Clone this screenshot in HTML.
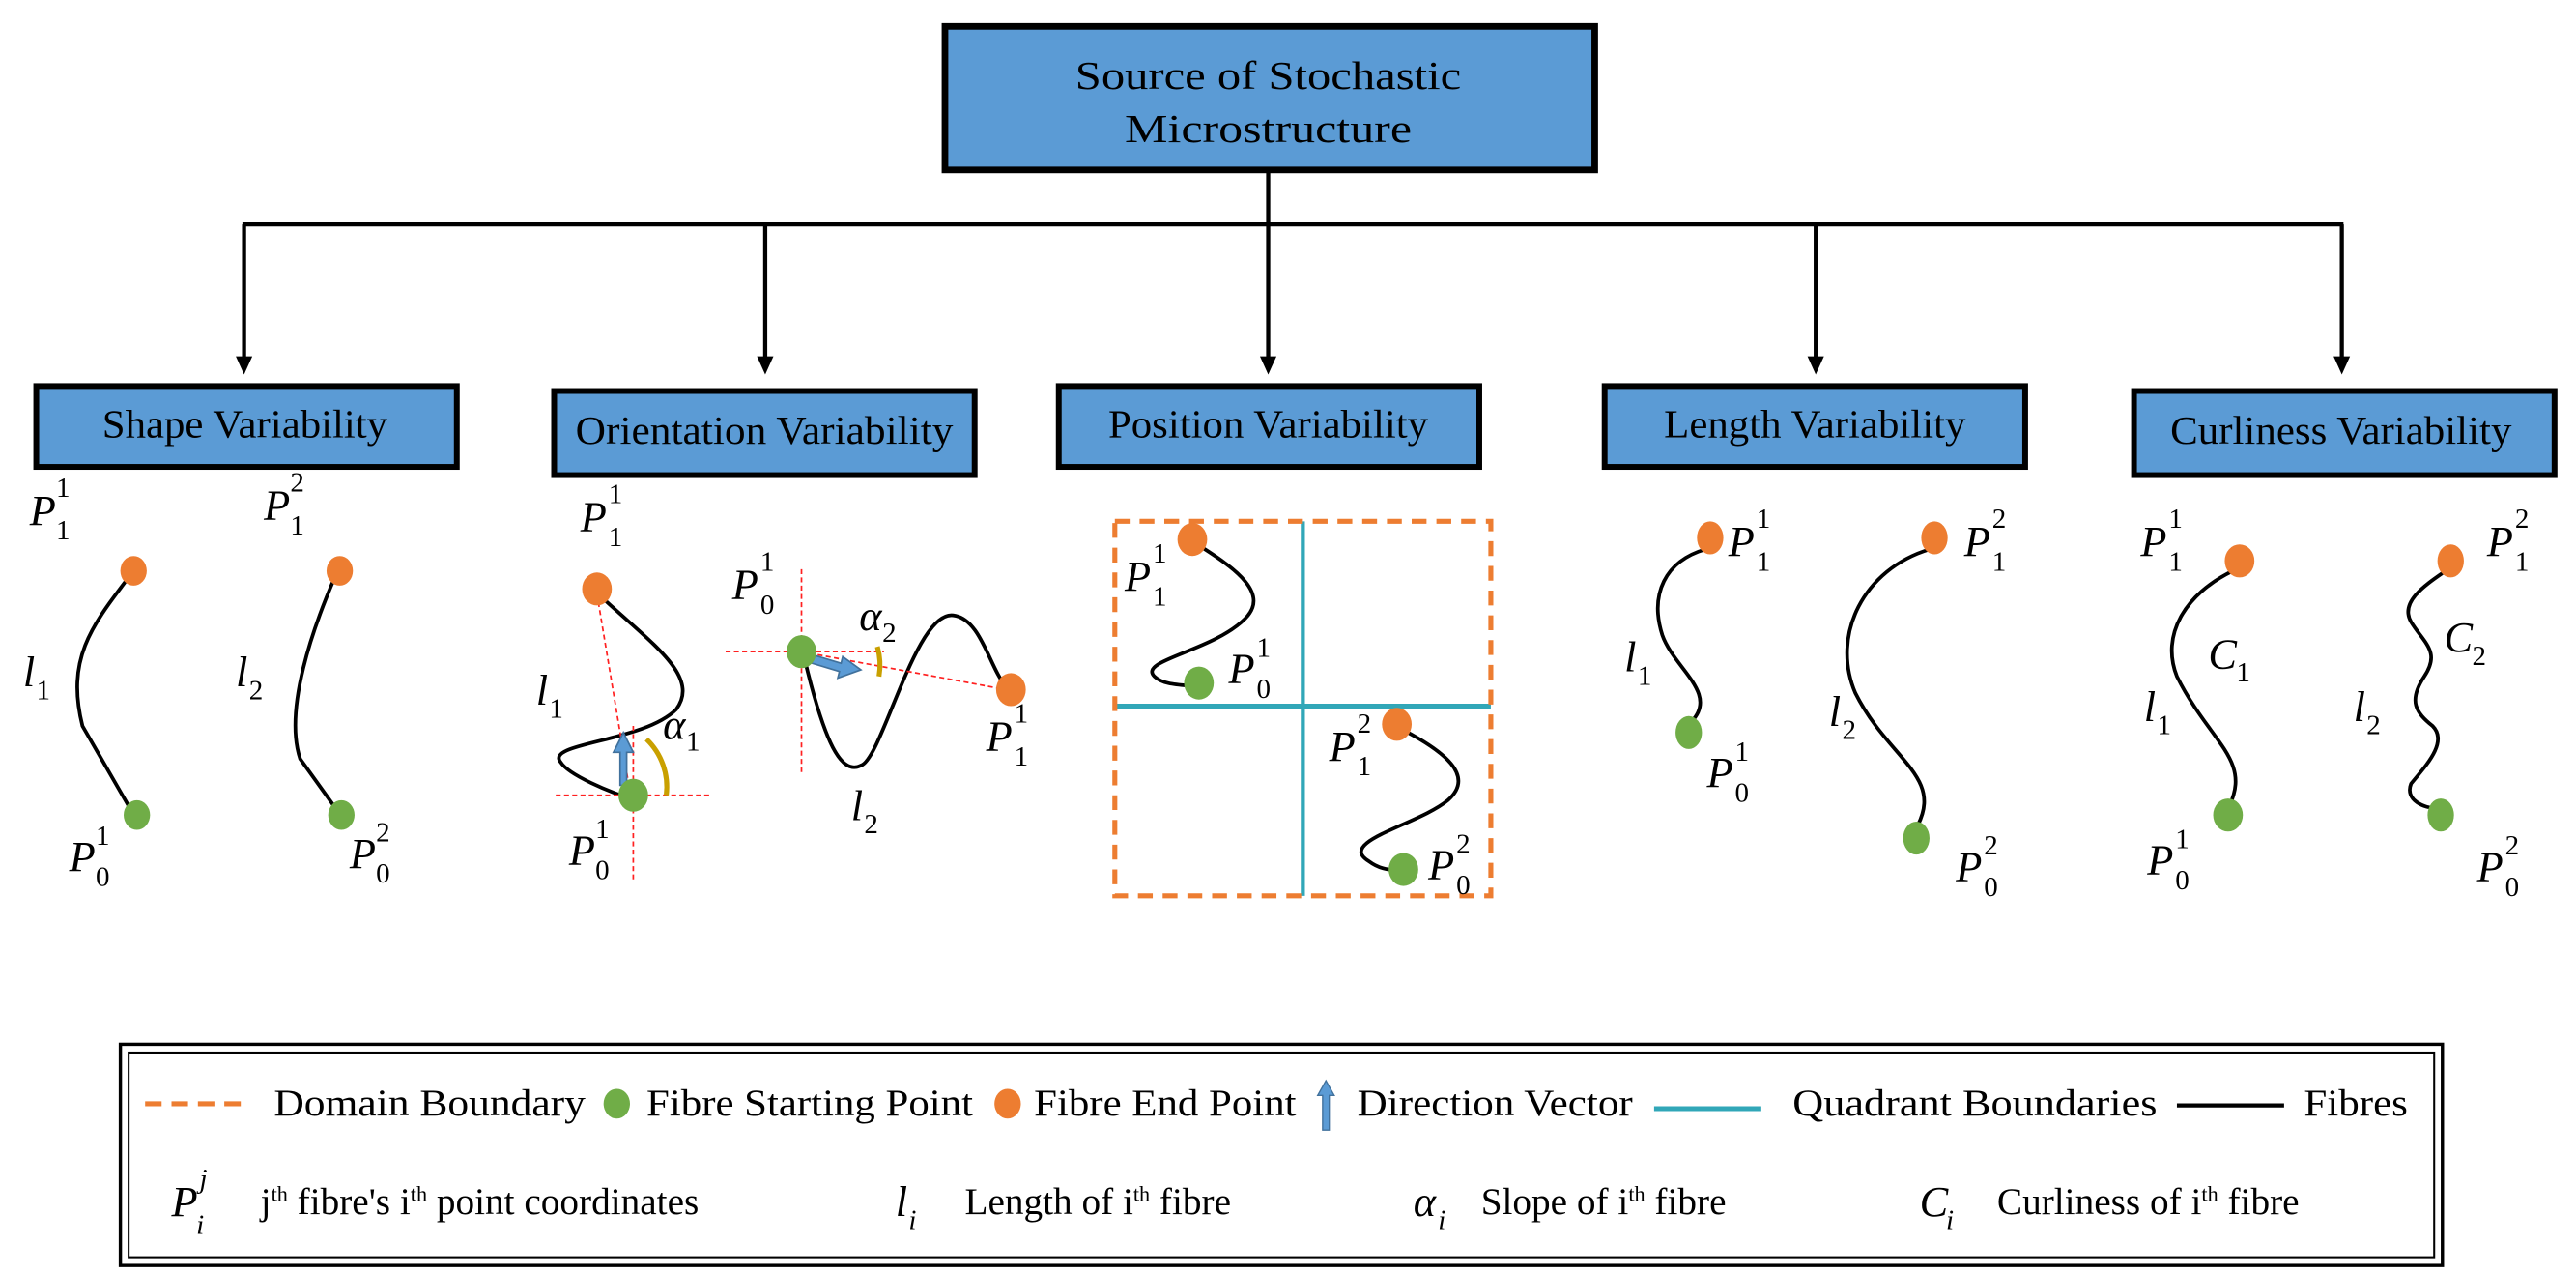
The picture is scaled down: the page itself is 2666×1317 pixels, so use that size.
<!DOCTYPE html>
<html><head><meta charset="utf-8"><style>
html,body{margin:0;padding:0;background:#fff;}
svg{display:block;}
.t{font-family:"Liberation Serif",serif;font-size:24px;fill:#000;}
.lg{font-family:"Liberation Serif",serif;font-size:23px;fill:#000;}
.m{font-family:"Liberation Serif",serif;font-style:italic;font-size:26px;fill:#000;}
.s{font-family:"Liberation Serif",serif;font-size:17px;fill:#000;}
.f{fill:none;stroke:#000;stroke-width:2.2;}
.rd{stroke:#ff2020;stroke-width:1;stroke-dasharray:3,2;fill:none;}
</style></head><body>
<svg width="2666" height="1317" viewBox="0 0 1562 771.6" preserveAspectRatio="none" xmlns="http://www.w3.org/2000/svg">
<!-- top box -->
<rect x="573" y="16" width="394" height="87" fill="#5b9bd5" stroke="#000" stroke-width="4"/>
<text class="t" x="652" y="54" textLength="234" lengthAdjust="spacingAndGlyphs" font-size="26">Source of Stochastic</text>
<text class="t" x="682" y="86" textLength="174" lengthAdjust="spacingAndGlyphs" font-size="26">Microstructure</text>
<line x1="769" y1="104" x2="769" y2="136" stroke="#000" stroke-width="2.5"/>
<line x1="147" y1="136" x2="1421" y2="136" stroke="#000" stroke-width="2.5"/>
<g stroke="#000" stroke-width="2.5">
<line x1="148" y1="136" x2="148" y2="218"/><line x1="464" y1="136" x2="464" y2="218"/><line x1="769" y1="136" x2="769" y2="218"/><line x1="1101" y1="136" x2="1101" y2="218"/><line x1="1420" y1="136" x2="1420" y2="218"/>
</g>
<g fill="#000">
<path d="M143,216 L153,216 L148,227 z"/><path d="M459,216 L469,216 L464,227 z"/><path d="M764,216 L774,216 L769,227 z"/><path d="M1096,216 L1106,216 L1101,227 z"/><path d="M1415,216 L1425,216 L1420,227 z"/>
</g>
<!-- boxes -->
<g fill="#5b9bd5" stroke="#000" stroke-width="3.5">
<rect x="22" y="234" width="255" height="49"/><rect x="336" y="237" width="255" height="51"/><rect x="642" y="234" width="255" height="49"/><rect x="973" y="234" width="255" height="49"/><rect x="1294" y="237" width="255" height="51"/>
</g>
<text class="t" x="62" y="265" textLength="173" lengthAdjust="spacingAndGlyphs">Shape Variability</text>
<text class="t" x="349" y="269" textLength="229" lengthAdjust="spacingAndGlyphs">Orientation  Variability</text>
<text class="t" x="672" y="265" textLength="194" lengthAdjust="spacingAndGlyphs">Position Variability</text>
<text class="t" x="1009" y="265" textLength="183" lengthAdjust="spacingAndGlyphs">Length Variability</text>
<text class="t" x="1316" y="269" textLength="207" lengthAdjust="spacingAndGlyphs">Curliness  Variability</text>

<!-- Shape -->
<path class="f" d="M78,350 C55,380 40,400 50,440 L80,492"/>
<path class="f" d="M203,350 C190,380 172,430 182,460 L205,492"/>
<ellipse cx="81" cy="346" rx="8" ry="9" fill="#ed7d31"/><ellipse cx="83" cy="494" rx="8" ry="9" fill="#70ad47"/>
<ellipse cx="206" cy="346" rx="8" ry="9" fill="#ed7d31"/><ellipse cx="207" cy="494" rx="8" ry="9" fill="#70ad47"/>
<text class="m" x="18" y="318">P</text><text class="s" x="34" y="301">1</text><text class="s" x="34" y="327">1</text>
<text class="m" x="14" y="416">l</text><text class="s" x="22" y="424">1</text>
<text class="m" x="42" y="528">P</text><text class="s" x="58" y="512">1</text><text class="s" x="58" y="537">0</text>
<text class="m" x="160" y="315">P</text><text class="s" x="176" y="298">2</text><text class="s" x="176" y="324">1</text>
<text class="m" x="143" y="416">l</text><text class="s" x="151" y="424">2</text>
<text class="m" x="212" y="526">P</text><text class="s" x="228" y="510">2</text><text class="s" x="228" y="535">0</text>

<!-- Orientation -->
<path class="f" d="M366,363 C395,390 425,410 410,430 C390,450 330,450 340,462 C345,470 370,480 382,484"/>
<line class="rd" x1="362" y1="360" x2="382" y2="480"/>
<line class="rd" x1="337" y1="482" x2="432" y2="482"/><line class="rd" x1="384" y1="440" x2="384" y2="535"/>
<path d="M392,448 A40,40 0 0 1 404,482" fill="none" stroke="#c9a000" stroke-width="3"/>
<path d="M376,476 L376,456 L372,456 L378,444 L384,456 L380,456 L380,476 z" fill="#5b9bd5" stroke="#41719c" stroke-width="1"/>
<ellipse cx="362" cy="357" rx="9" ry="10" fill="#ed7d31"/><ellipse cx="384" cy="482" rx="9" ry="10" fill="#70ad47"/>
<text class="m" x="352" y="322">P</text><text class="s" x="369" y="305">1</text><text class="s" x="369" y="331">1</text>
<text class="m" x="325" y="427">l</text><text class="s" x="333" y="435">1</text>
<text class="m" x="402" y="448" font-style="normal">α</text><text class="s" x="416" y="455">1</text>
<text class="m" x="345" y="524">P</text><text class="s" x="361" y="508">1</text><text class="s" x="361" y="533">0</text>
<path class="f" d="M488,400 C500,450 510,470 522,464 C535,460 555,370 578,373 C595,375 600,405 610,416"/>
<line class="rd" x1="486" y1="395" x2="610" y2="418"/>
<line class="rd" x1="440" y1="395" x2="536" y2="395"/><line class="rd" x1="486" y1="345" x2="486" y2="470"/>
<path d="M532,392 A40,40 0 0 1 533,410" fill="none" stroke="#c9a000" stroke-width="3"/>
<path d="M490,396 L510,402 L511,398 L522,406 L508,411 L509,407 L489,401 z" fill="#5b9bd5" stroke="#41719c" stroke-width="1"/>
<ellipse cx="486" cy="395" rx="9" ry="10" fill="#70ad47"/><ellipse cx="613" cy="418" rx="9" ry="10" fill="#ed7d31"/>
<text class="m" x="444" y="363">P</text><text class="s" x="461" y="346">1</text><text class="s" x="461" y="372">0</text>
<text class="m" x="521" y="382" font-style="normal">α</text><text class="s" x="535" y="389">2</text>
<text class="m" x="598" y="455">P</text><text class="s" x="615" y="438">1</text><text class="s" x="615" y="464">1</text>
<text class="m" x="516" y="497">l</text><text class="s" x="524" y="505">2</text>

<!-- Position -->
<line x1="790" y1="316" x2="790" y2="543" stroke="#31a7b8" stroke-width="2.5"/>
<line x1="675" y1="428" x2="904" y2="428" stroke="#31a7b8" stroke-width="3"/>
<rect x="676" y="316" width="228" height="227" fill="none" stroke="#ed7d31" stroke-width="3" stroke-dasharray="9,6"/>
<path class="f" d="M726,330 C750,345 770,360 755,375 C735,395 690,400 700,410 C705,415 715,415 725,416"/>
<path class="f" d="M850,442 C875,455 895,470 878,485 C860,500 810,510 830,522 C838,528 845,527 850,528"/>
<ellipse cx="723" cy="327" rx="9" ry="10" fill="#ed7d31"/><ellipse cx="727" cy="414" rx="9" ry="10" fill="#70ad47"/>
<ellipse cx="847" cy="439" rx="9" ry="10" fill="#ed7d31"/><ellipse cx="851" cy="527" rx="9" ry="10" fill="#70ad47"/>
<text class="m" x="682" y="358">P</text><text class="s" x="699" y="341">1</text><text class="s" x="699" y="367">1</text>
<text class="m" x="745" y="414">P</text><text class="s" x="762" y="398">1</text><text class="s" x="762" y="423">0</text>
<text class="m" x="806" y="461">P</text><text class="s" x="823" y="444">2</text><text class="s" x="823" y="470">1</text>
<text class="m" x="866" y="533">P</text><text class="s" x="883" y="517">2</text><text class="s" x="883" y="542">0</text>

<!-- Length -->
<path class="f" d="M1034,333 C1010,340 1000,360 1008,385 C1015,405 1042,420 1026,437"/>
<path class="f" d="M1170,333 C1130,345 1110,385 1125,420 C1145,460 1178,470 1163,500"/>
<ellipse cx="1037" cy="326" rx="8" ry="10" fill="#ed7d31"/><ellipse cx="1024" cy="444" rx="8" ry="10" fill="#70ad47"/>
<ellipse cx="1173" cy="326" rx="8" ry="10" fill="#ed7d31"/><ellipse cx="1162" cy="508" rx="8" ry="10" fill="#70ad47"/>
<text class="m" x="1048" y="337">P</text><text class="s" x="1065" y="320">1</text><text class="s" x="1065" y="346">1</text>
<text class="m" x="985" y="407">l</text><text class="s" x="993" y="415">1</text>
<text class="m" x="1035" y="477">P</text><text class="s" x="1052" y="461">1</text><text class="s" x="1052" y="486">0</text>
<text class="m" x="1191" y="337">P</text><text class="s" x="1208" y="320">2</text><text class="s" x="1208" y="346">1</text>
<text class="m" x="1109" y="440">l</text><text class="s" x="1117" y="448">2</text>
<text class="m" x="1186" y="534">P</text><text class="s" x="1203" y="518">2</text><text class="s" x="1203" y="543">0</text>

<!-- Curliness -->
<path class="f" d="M1354,346 C1325,360 1310,385 1320,410 C1340,450 1365,460 1352,488"/>
<path class="f" d="M1483,346 C1470,355 1455,365 1462,377 C1470,390 1480,395 1470,410 C1460,425 1465,432 1475,440 C1485,450 1470,465 1462,475 C1458,485 1470,490 1478,490"/>
<ellipse cx="1358" cy="340" rx="9" ry="10" fill="#ed7d31"/><ellipse cx="1351" cy="494" rx="9" ry="10" fill="#70ad47"/>
<ellipse cx="1486" cy="340" rx="8" ry="10" fill="#ed7d31"/><ellipse cx="1480" cy="494" rx="8" ry="10" fill="#70ad47"/>
<text class="m" x="1298" y="337">P</text><text class="s" x="1315" y="320">1</text><text class="s" x="1315" y="346">1</text>
<text class="m" x="1339" y="405">C</text><text class="s" x="1356" y="413">1</text>
<text class="m" x="1300" y="437">l</text><text class="s" x="1308" y="445">1</text>
<text class="m" x="1302" y="530">P</text><text class="s" x="1319" y="514">1</text><text class="s" x="1319" y="539">0</text>
<text class="m" x="1508" y="337">P</text><text class="s" x="1525" y="320">2</text><text class="s" x="1525" y="346">1</text>
<text class="m" x="1482" y="395">C</text><text class="s" x="1499" y="403">2</text>
<text class="m" x="1427" y="437">l</text><text class="s" x="1435" y="445">2</text>
<text class="m" x="1502" y="534">P</text><text class="s" x="1519" y="518">2</text><text class="s" x="1519" y="543">0</text>

<!-- legend -->
<rect x="73" y="633" width="1408" height="134" fill="none" stroke="#000" stroke-width="2"/>
<rect x="78" y="638" width="1398" height="124" fill="none" stroke="#000" stroke-width="1.2"/>
<line x1="88" y1="669" x2="152" y2="669" stroke="#ed7d31" stroke-width="3" stroke-dasharray="10,6"/>
<text class="lg" x="166" y="676" textLength="189" lengthAdjust="spacingAndGlyphs">Domain Boundary</text>
<ellipse cx="374" cy="669" rx="8" ry="9" fill="#70ad47"/>
<text class="lg" x="392" y="676" textLength="198" lengthAdjust="spacingAndGlyphs">Fibre Starting Point</text>
<ellipse cx="611" cy="669" rx="8" ry="9" fill="#ed7d31"/>
<text class="lg" x="627" y="676" textLength="159" lengthAdjust="spacingAndGlyphs">Fibre End Point</text>
<path d="M802,685 L802,664 L799,664 L804,655 L809,664 L806,664 L806,685 z" fill="#5b9bd5" stroke="#41719c" stroke-width="0.8"/>
<text class="lg" x="823" y="676" textLength="167" lengthAdjust="spacingAndGlyphs">Direction Vector</text>
<line x1="1003" y1="672" x2="1068" y2="672" stroke="#31a7b8" stroke-width="3"/>
<text class="lg" x="1087" y="676" textLength="221" lengthAdjust="spacingAndGlyphs">Quadrant Boundaries</text>
<line x1="1320" y1="670" x2="1385" y2="670" stroke="#000" stroke-width="2.5"/>
<text class="lg" x="1397" y="676" textLength="63" lengthAdjust="spacingAndGlyphs">Fibres</text>
<text class="m" x="104" y="737">P</text><text class="s" x="121" y="720" font-style="italic">j</text><text class="s" x="119" y="748" font-style="italic">i</text>
<text class="lg" x="158" y="736">j<tspan font-size="13" dy="-8">th</tspan><tspan dy="8"> fibre's i</tspan><tspan font-size="13" dy="-8">th</tspan><tspan dy="8"> point coordinates</tspan></text>
<text class="m" x="543" y="737">l</text><text class="s" x="551" y="745" font-style="italic">i</text>
<text class="lg" x="585" y="736">Length of i<tspan font-size="13" dy="-8">th</tspan><tspan dy="8"> fibre</tspan></text>
<text class="m" x="857" y="737" font-style="normal">α</text><text class="s" x="872" y="745" font-style="italic">i</text>
<text class="lg" x="898" y="736">Slope of i<tspan font-size="13" dy="-8">th</tspan><tspan dy="8"> fibre</tspan></text>
<text class="m" x="1164" y="737">C</text><text class="s" x="1180" y="745" font-style="italic">i</text>
<text class="lg" x="1211" y="736">Curliness of i<tspan font-size="13" dy="-8">th</tspan><tspan dy="8"> fibre</tspan></text>
</svg>
</body></html>
